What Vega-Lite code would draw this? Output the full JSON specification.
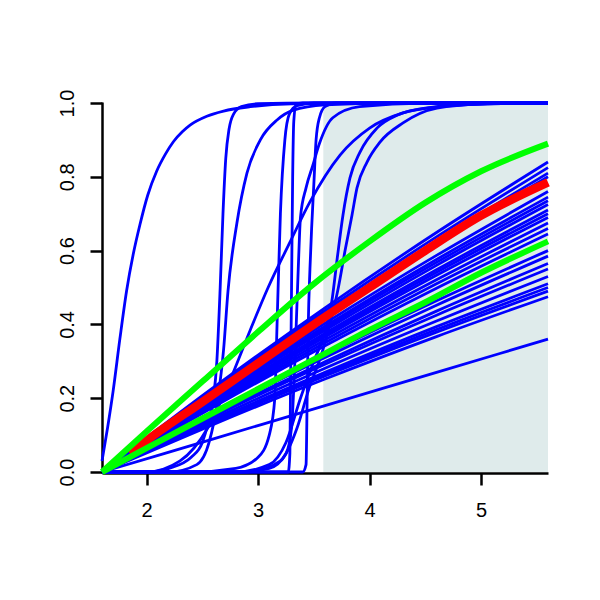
{
"$schema":"https://vega.github.io/schema/vega-lite/v6.json",
"autosize":"none","width":446,"height":371,
"padding":{"left":102,"top":102,"right":52,"bottom":127},
"background":"white",
"config":{"view":{"stroke":null},"axis":{"grid":false,"title":null,"domainColor":"black","tickColor":"black","labelColor":"black","labelFont":"Liberation Sans","labelFontSize":20,"domainWidth":2.5,"tickWidth":2.5,"tickSize":12}},
"datasets":{"curves":[
{"i":"f1","g":"b","x":1.6,"y":0},{"i":"f1","g":"b","x":2.6,"y":0.229},{"i":"f1","g":"b","x":3.6,"y":0.445},{"i":"f1","g":"b","x":4.6,"y":0.649},{"i":"f1","g":"b","x":5.6,"y":0.84},
{"i":"f2","g":"b","x":1.6,"y":0},{"i":"f2","g":"b","x":2.6,"y":0.225},{"i":"f2","g":"b","x":3.6,"y":0.437},{"i":"f2","g":"b","x":4.6,"y":0.637},{"i":"f2","g":"b","x":5.6,"y":0.825},
{"i":"f3","g":"b","x":1.6,"y":0},{"i":"f3","g":"b","x":2.6,"y":0.221},{"i":"f3","g":"b","x":3.6,"y":0.429},{"i":"f3","g":"b","x":4.6,"y":0.626},{"i":"f3","g":"b","x":5.6,"y":0.81},
{"i":"f4","g":"b","x":1.6,"y":0},{"i":"f4","g":"b","x":2.6,"y":0.218},{"i":"f4","g":"b","x":3.6,"y":0.424},{"i":"f4","g":"b","x":4.6,"y":0.618},{"i":"f4","g":"b","x":5.6,"y":0.8},
{"i":"f5","g":"b","x":1.6,"y":0},{"i":"f5","g":"b","x":2.6,"y":0.207},{"i":"f5","g":"b","x":3.6,"y":0.403},{"i":"f5","g":"b","x":4.6,"y":0.587},{"i":"f5","g":"b","x":5.6,"y":0.76},
{"i":"f6","g":"b","x":1.6,"y":0},{"i":"f6","g":"b","x":2.6,"y":0.203},{"i":"f6","g":"b","x":3.6,"y":0.395},{"i":"f6","g":"b","x":4.6,"y":0.576},{"i":"f6","g":"b","x":5.6,"y":0.745},
{"i":"f7","g":"b","x":1.6,"y":0},{"i":"f7","g":"b","x":2.6,"y":0.2},{"i":"f7","g":"b","x":3.6,"y":0.39},{"i":"f7","g":"b","x":4.6,"y":0.568},{"i":"f7","g":"b","x":5.6,"y":0.735},
{"i":"f8","g":"b","x":1.6,"y":0},{"i":"f8","g":"b","x":2.6,"y":0.198},{"i":"f8","g":"b","x":3.6,"y":0.384},{"i":"f8","g":"b","x":4.6,"y":0.56},{"i":"f8","g":"b","x":5.6,"y":0.725},
{"i":"f9","g":"b","x":1.6,"y":0},{"i":"f9","g":"b","x":2.6,"y":0.193},{"i":"f9","g":"b","x":3.6,"y":0.376},{"i":"f9","g":"b","x":4.6,"y":0.548},{"i":"f9","g":"b","x":5.6,"y":0.71},
{"i":"f10","g":"b","x":1.6,"y":0},{"i":"f10","g":"b","x":2.6,"y":0.191},{"i":"f10","g":"b","x":3.6,"y":0.371},{"i":"f10","g":"b","x":4.6,"y":0.541},{"i":"f10","g":"b","x":5.6,"y":0.7},
{"i":"f11","g":"b","x":1.6,"y":0},{"i":"f11","g":"b","x":2.6,"y":0.188},{"i":"f11","g":"b","x":3.6,"y":0.366},{"i":"f11","g":"b","x":4.6,"y":0.533},{"i":"f11","g":"b","x":5.6,"y":0.69},
{"i":"f12","g":"b","x":1.6,"y":0},{"i":"f12","g":"b","x":2.6,"y":0.184},{"i":"f12","g":"b","x":3.6,"y":0.358},{"i":"f12","g":"b","x":4.6,"y":0.521},{"i":"f12","g":"b","x":5.6,"y":0.675},
{"i":"f13","g":"b","x":1.6,"y":0},{"i":"f13","g":"b","x":2.6,"y":0.18},{"i":"f13","g":"b","x":3.6,"y":0.35},{"i":"f13","g":"b","x":4.6,"y":0.51},{"i":"f13","g":"b","x":5.6,"y":0.66},
{"i":"f14","g":"b","x":1.6,"y":0},{"i":"f14","g":"b","x":2.6,"y":0.176},{"i":"f14","g":"b","x":3.6,"y":0.342},{"i":"f14","g":"b","x":4.6,"y":0.498},{"i":"f14","g":"b","x":5.6,"y":0.645},
{"i":"f15","g":"b","x":1.6,"y":0},{"i":"f15","g":"b","x":2.6,"y":0.164},{"i":"f15","g":"b","x":3.6,"y":0.318},{"i":"f15","g":"b","x":4.6,"y":0.464},{"i":"f15","g":"b","x":5.6,"y":0.6},
{"i":"f16","g":"b","x":1.6,"y":0},{"i":"f16","g":"b","x":2.6,"y":0.159},{"i":"f16","g":"b","x":3.6,"y":0.31},{"i":"f16","g":"b","x":4.6,"y":0.452},{"i":"f16","g":"b","x":5.6,"y":0.585},
{"i":"f17","g":"b","x":1.6,"y":0},{"i":"f17","g":"b","x":2.6,"y":0.154},{"i":"f17","g":"b","x":3.6,"y":0.299},{"i":"f17","g":"b","x":4.6,"y":0.436},{"i":"f17","g":"b","x":5.6,"y":0.565},
{"i":"f18","g":"b","x":1.6,"y":0},{"i":"f18","g":"b","x":2.6,"y":0.15},{"i":"f18","g":"b","x":3.6,"y":0.292},{"i":"f18","g":"b","x":4.6,"y":0.425},{"i":"f18","g":"b","x":5.6,"y":0.55},
{"i":"f19","g":"b","x":1.6,"y":0},{"i":"f19","g":"b","x":2.6,"y":0.144},{"i":"f19","g":"b","x":3.6,"y":0.281},{"i":"f19","g":"b","x":4.6,"y":0.409},{"i":"f19","g":"b","x":5.6,"y":0.53},
{"i":"f20","g":"b","x":1.6,"y":0},{"i":"f20","g":"b","x":2.6,"y":0.139},{"i":"f20","g":"b","x":3.6,"y":0.27},{"i":"f20","g":"b","x":4.6,"y":0.394},{"i":"f20","g":"b","x":5.6,"y":0.51},
{"i":"f21","g":"b","x":1.6,"y":0},{"i":"f21","g":"b","x":2.6,"y":0.136},{"i":"f21","g":"b","x":3.6,"y":0.265},{"i":"f21","g":"b","x":4.6,"y":0.386},{"i":"f21","g":"b","x":5.6,"y":0.5},
{"i":"f22","g":"b","x":1.6,"y":0},{"i":"f22","g":"b","x":2.6,"y":0.134},{"i":"f22","g":"b","x":3.6,"y":0.26},{"i":"f22","g":"b","x":4.6,"y":0.379},{"i":"f22","g":"b","x":5.6,"y":0.49},
{"i":"f23","g":"b","x":1.6,"y":0},{"i":"f23","g":"b","x":2.6,"y":0.129},{"i":"f23","g":"b","x":3.6,"y":0.252},{"i":"f23","g":"b","x":4.6,"y":0.367},{"i":"f23","g":"b","x":5.6,"y":0.475},
{"i":"f24","g":"b","x":1.6,"y":0},{"i":"f24","g":"b","x":2.6,"y":0.09},{"i":"f24","g":"b","x":3.6,"y":0.18},{"i":"f24","g":"b","x":4.6,"y":0.27},{"i":"f24","g":"b","x":5.6,"y":0.36},
{"i":"s1","g":"b","x":1.6,"y":0.03},{"i":"s1","g":"b","x":1.65,"y":0.12},{"i":"s1","g":"b","x":1.7,"y":0.22},{"i":"s1","g":"b","x":1.76,"y":0.36},{"i":"s1","g":"b","x":1.82,"y":0.49},{"i":"s1","g":"b","x":1.88,"y":0.59},{"i":"s1","g":"b","x":1.94,"y":0.67},{"i":"s1","g":"b","x":2.01,"y":0.75},{"i":"s1","g":"b","x":2.09,"y":0.815},{"i":"s1","g":"b","x":2.17,"y":0.862},{"i":"s1","g":"b","x":2.24,"y":0.895},{"i":"s1","g":"b","x":2.32,"y":0.922},{"i":"s1","g":"b","x":2.39,"y":0.94},{"i":"s1","g":"b","x":2.54,"y":0.964},{"i":"s1","g":"b","x":2.69,"y":0.978},{"i":"s1","g":"b","x":2.93,"y":0.99},{"i":"s1","g":"b","x":3.3,"y":0.998},{"i":"s1","g":"b","x":4.0,"y":1},{"i":"s1","g":"b","x":5.6,"y":1},
{"i":"s2","g":"b","x":1.6,"y":0},{"i":"s2","g":"b","x":2.0,"y":0},{"i":"s2","g":"b","x":2.2,"y":0.01},{"i":"s2","g":"b","x":2.4,"y":0.04},{"i":"s2","g":"b","x":2.5,"y":0.08},{"i":"s2","g":"b","x":2.55,"y":0.13},{"i":"s2","g":"b","x":2.6,"y":0.2},{"i":"s2","g":"b","x":2.63,"y":0.3},{"i":"s2","g":"b","x":2.66,"y":0.5},{"i":"s2","g":"b","x":2.685,"y":0.7},{"i":"s2","g":"b","x":2.71,"y":0.85},{"i":"s2","g":"b","x":2.74,"y":0.93},{"i":"s2","g":"b","x":2.78,"y":0.97},{"i":"s2","g":"b","x":2.85,"y":0.99},{"i":"s2","g":"b","x":3.0,"y":0.998},{"i":"s2","g":"b","x":3.5,"y":1},{"i":"s2","g":"b","x":5.6,"y":1},
{"i":"s3","g":"b","x":1.6,"y":0},{"i":"s3","g":"b","x":2.2,"y":0},{"i":"s3","g":"b","x":2.45,"y":0.02},{"i":"s3","g":"b","x":2.56,"y":0.08},{"i":"s3","g":"b","x":2.64,"y":0.2},{"i":"s3","g":"b","x":2.69,"y":0.33},{"i":"s3","g":"b","x":2.73,"y":0.49},{"i":"s3","g":"b","x":2.81,"y":0.675},{"i":"s3","g":"b","x":2.9,"y":0.81},{"i":"s3","g":"b","x":3.02,"y":0.9},{"i":"s3","g":"b","x":3.17,"y":0.954},{"i":"s3","g":"b","x":3.31,"y":0.98},{"i":"s3","g":"b","x":3.6,"y":0.995},{"i":"s3","g":"b","x":4.2,"y":1},{"i":"s3","g":"b","x":5.6,"y":1},
{"i":"s4","g":"b","x":1.6,"y":0},{"i":"s4","g":"b","x":3.0,"y":0},{"i":"s4","g":"b","x":3.27,"y":0},{"i":"s4","g":"b","x":3.285,"y":0.05},{"i":"s4","g":"b","x":3.29,"y":0.2},{"i":"s4","g":"b","x":3.3,"y":0.5},{"i":"s4","g":"b","x":3.31,"y":0.8},{"i":"s4","g":"b","x":3.32,"y":0.95},{"i":"s4","g":"b","x":3.34,"y":0.995},{"i":"s4","g":"b","x":3.4,"y":1},{"i":"s4","g":"b","x":5.6,"y":1},
{"i":"s5","g":"b","x":1.6,"y":0},{"i":"s5","g":"b","x":2.0,"y":0},{"i":"s5","g":"b","x":2.3,"y":0.03},{"i":"s5","g":"b","x":2.55,"y":0.12},{"i":"s5","g":"b","x":2.75,"y":0.25},{"i":"s5","g":"b","x":2.93,"y":0.385},{"i":"s5","g":"b","x":3.09,"y":0.5},{"i":"s5","g":"b","x":3.286,"y":0.623},{"i":"s5","g":"b","x":3.465,"y":0.732},{"i":"s5","g":"b","x":3.735,"y":0.859},{"i":"s5","g":"b","x":4.0,"y":0.932},{"i":"s5","g":"b","x":4.3,"y":0.973},{"i":"s5","g":"b","x":4.6,"y":0.989},{"i":"s5","g":"b","x":5.0,"y":0.997},{"i":"s5","g":"b","x":5.6,"y":1},
{"i":"s6","g":"b","x":1.6,"y":0},{"i":"s6","g":"b","x":3.0,"y":0},{"i":"s6","g":"b","x":3.4,"y":0},{"i":"s6","g":"b","x":3.43,"y":0.02},{"i":"s6","g":"b","x":3.44,"y":0.2},{"i":"s6","g":"b","x":3.45,"y":0.4},{"i":"s6","g":"b","x":3.465,"y":0.55},{"i":"s6","g":"b","x":3.48,"y":0.66},{"i":"s6","g":"b","x":3.5,"y":0.78},{"i":"s6","g":"b","x":3.52,"y":0.9},{"i":"s6","g":"b","x":3.55,"y":0.96},{"i":"s6","g":"b","x":3.6,"y":0.99},{"i":"s6","g":"b","x":3.7,"y":1},{"i":"s6","g":"b","x":5.6,"y":1},
{"i":"s7","g":"b","x":1.6,"y":0},{"i":"s7","g":"b","x":2.8,"y":0},{"i":"s7","g":"b","x":3.1,"y":0.02},{"i":"s7","g":"b","x":3.25,"y":0.08},{"i":"s7","g":"b","x":3.38,"y":0.2},{"i":"s7","g":"b","x":3.5,"y":0.3},{"i":"s7","g":"b","x":3.6,"y":0.38},{"i":"s7","g":"b","x":3.66,"y":0.46},{"i":"s7","g":"b","x":3.71,"y":0.58},{"i":"s7","g":"b","x":3.761,"y":0.696},{"i":"s7","g":"b","x":3.824,"y":0.797},{"i":"s7","g":"b","x":3.914,"y":0.867},{"i":"s7","g":"b","x":4.066,"y":0.932},{"i":"s7","g":"b","x":4.246,"y":0.967},{"i":"s7","g":"b","x":4.569,"y":0.989},{"i":"s7","g":"b","x":5.0,"y":0.998},{"i":"s7","g":"b","x":5.6,"y":1},
{"i":"s8","g":"b","x":1.6,"y":0},{"i":"s8","g":"b","x":2.9,"y":0},{"i":"s8","g":"b","x":3.2,"y":0.03},{"i":"s8","g":"b","x":3.35,"y":0.12},{"i":"s8","g":"b","x":3.45,"y":0.22},{"i":"s8","g":"b","x":3.58,"y":0.33},{"i":"s8","g":"b","x":3.66,"y":0.42},{"i":"s8","g":"b","x":3.72,"y":0.5},{"i":"s8","g":"b","x":3.78,"y":0.6},{"i":"s8","g":"b","x":3.842,"y":0.696},{"i":"s8","g":"b","x":3.887,"y":0.77},{"i":"s8","g":"b","x":3.977,"y":0.84},{"i":"s8","g":"b","x":4.093,"y":0.894},{"i":"s8","g":"b","x":4.3,"y":0.946},{"i":"s8","g":"b","x":4.604,"y":0.986},{"i":"s8","g":"b","x":5.0,"y":0.997},{"i":"s8","g":"b","x":5.6,"y":1},
{"i":"s9","g":"b","x":1.6,"y":0},{"i":"s9","g":"b","x":2.8,"y":0},{"i":"s9","g":"b","x":3.1,"y":0.01},{"i":"s9","g":"b","x":3.25,"y":0.05},{"i":"s9","g":"b","x":3.3,"y":0.12},{"i":"s9","g":"b","x":3.33,"y":0.3},{"i":"s9","g":"b","x":3.36,"y":0.55},{"i":"s9","g":"b","x":3.38,"y":0.69},{"i":"s9","g":"b","x":3.43,"y":0.77},{"i":"s9","g":"b","x":3.49,"y":0.83},{"i":"s9","g":"b","x":3.55,"y":0.89},{"i":"s9","g":"b","x":3.67,"y":0.96},{"i":"s9","g":"b","x":3.91,"y":0.99},{"i":"s9","g":"b","x":4.5,"y":1},{"i":"s9","g":"b","x":5.6,"y":1},
{"i":"s10","g":"b","x":1.6,"y":0},{"i":"s10","g":"b","x":2.4,"y":0},{"i":"s10","g":"b","x":2.8,"y":0.01},{"i":"s10","g":"b","x":3.0,"y":0.04},{"i":"s10","g":"b","x":3.1,"y":0.1},{"i":"s10","g":"b","x":3.15,"y":0.2},{"i":"s10","g":"b","x":3.17,"y":0.4},{"i":"s10","g":"b","x":3.2,"y":0.7},{"i":"s10","g":"b","x":3.24,"y":0.9},{"i":"s10","g":"b","x":3.28,"y":0.97},{"i":"s10","g":"b","x":3.35,"y":0.993},{"i":"s10","g":"b","x":3.5,"y":1},{"i":"s10","g":"b","x":5.6,"y":1},
{"i":"gu","g":"g","x":1.6,"y":0},{"i":"gu","g":"g","x":2.0,"y":0.11},{"i":"gu","g":"g","x":2.5,"y":0.245},{"i":"gu","g":"g","x":3.0,"y":0.38},{"i":"gu","g":"g","x":3.5,"y":0.51},{"i":"gu","g":"g","x":4.0,"y":0.625},{"i":"gu","g":"g","x":4.5,"y":0.73},{"i":"gu","g":"g","x":5.0,"y":0.815},{"i":"gu","g":"g","x":5.6,"y":0.89},
{"i":"gl","g":"g","x":1.6,"y":0},{"i":"gl","g":"g","x":2.0,"y":0.065},{"i":"gl","g":"g","x":2.5,"y":0.145},{"i":"gl","g":"g","x":3.0,"y":0.225},{"i":"gl","g":"g","x":3.5,"y":0.305},{"i":"gl","g":"g","x":4.0,"y":0.385},{"i":"gl","g":"g","x":4.5,"y":0.46},{"i":"gl","g":"g","x":5.0,"y":0.54},{"i":"gl","g":"g","x":5.6,"y":0.625},
{"i":"rd","g":"r","x":1.85,"y":0.05},{"i":"rd","g":"r","x":2.0,"y":0.085},{"i":"rd","g":"r","x":2.5,"y":0.19},{"i":"rd","g":"r","x":3.0,"y":0.295},{"i":"rd","g":"r","x":3.5,"y":0.4},{"i":"rd","g":"r","x":4.0,"y":0.5},{"i":"rd","g":"r","x":4.5,"y":0.6},{"i":"rd","g":"r","x":5.0,"y":0.695},{"i":"rd","g":"r","x":5.6,"y":0.785}
],
"region":[{"x1":3.585,"x2":5.6,"y1":0,"y2":1.0027}]},
"layer":[
{"data":{"name":"region"},"mark":{"type":"rect","fill":"#dfebeb"},
 "encoding":{"x":{"field":"x1","type":"quantitative","scale":{"domain":[1.6,5.6],"nice":false,"zero":false},
   "axis":{"values":[2,3,4,5],"format":"d","labelPadding":15}},
  "x2":{"field":"x2"},
  "y":{"field":"y1","type":"quantitative","scale":{"domain":[-0.0027,1.0027],"nice":false,"zero":false},
   "axis":{"values":[0,0.2,0.4,0.6,0.8,1.0],"format":".1f","labelAngle":-90,"labelAlign":"center","labelBaseline":"bottom","labelPadding":13}},
  "y2":{"field":"y2"}}},
{"mark":{"type":"rule","color":"black","strokeWidth":2.5},"encoding":{"x":{"datum":1.6,"type":"quantitative"},"x2":{"datum":3.585},"y":{"datum":1.0027,"type":"quantitative"}}},
{"data":{"name":"curves"},"transform":[{"filter":"datum.g==='b'"}],"mark":{"type":"line","color":"#0000ff","strokeWidth":2.8,"interpolate":"monotone"},
 "encoding":{"x":{"field":"x","type":"quantitative"},"y":{"field":"y","type":"quantitative"},"detail":{"field":"i"},"order":{"field":"x","type":"quantitative"}}},
{"data":{"name":"curves"},"transform":[{"filter":"datum.g==='r'"}],"mark":{"type":"line","color":"#ff0000","strokeWidth":8.5,"interpolate":"monotone"},
 "encoding":{"x":{"field":"x","type":"quantitative"},"y":{"field":"y","type":"quantitative"},"detail":{"field":"i"},"order":{"field":"x","type":"quantitative"}}},
{"data":{"name":"curves"},"transform":[{"filter":"datum.g==='g'"}],"mark":{"type":"line","color":"#00ff00","strokeWidth":6,"interpolate":"monotone"},
 "encoding":{"x":{"field":"x","type":"quantitative"},"y":{"field":"y","type":"quantitative"},"detail":{"field":"i"},"order":{"field":"x","type":"quantitative"}}},
{"mark":{"type":"rule","color":"black","strokeWidth":1.5},"encoding":{"x":{"datum":5.6,"type":"quantitative"},"y":{"datum":-0.0027,"type":"quantitative"},"y2":{"datum":1.0027}}}
]
}
